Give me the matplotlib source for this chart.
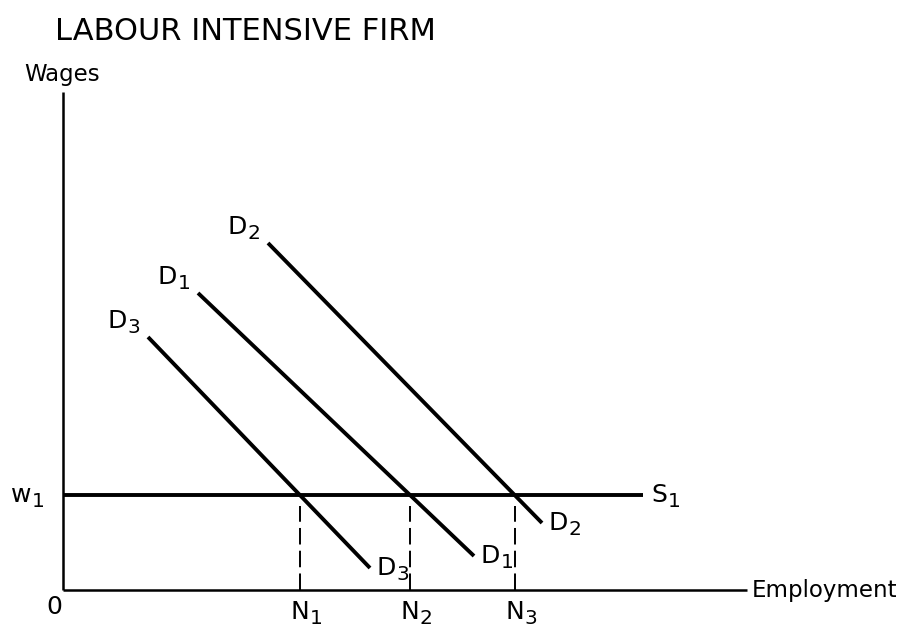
import os
import matplotlib
matplotlib.use("Agg")
import matplotlib.pyplot as plt
from matplotlib.font_manager import FontProperties

plt.rcParams['font.family'] = ['DejaVu Sans']
FONT_PATH = os.path.join(matplotlib.get_data_path(), 'fonts', 'ttf', 'DejaVuSans.ttf')


def fp(size):
    if os.path.exists(FONT_PATH):
        return FontProperties(fname=FONT_PATH, size=size)
    return FontProperties(family='DejaVu Sans', stretch='normal', size=size)


# ---- data (diagram units) ----
title = "LABOUR INTENSIVE FIRM"
y_label = "Wages"
x_label = "Employment"
employment_max = 68.4
wage_max = 49.8
wage_w1 = 9.5
supply_end = 58.0

demand_names = ["D1", "D2", "D3"]
demand_x = {"D1": [13.5, 41.1], "D2": [20.5, 47.9], "D3": [8.5, 30.7]}
demand_y = {"D1": [29.7, 3.4], "D2": [34.7, 6.7], "D3": [25.3, 2.2]}
n_labels = {"D3": "1", "D1": "2", "D2": "3"}

fig = plt.figure(figsize=(9.12, 6.3), dpi=100)
ax = fig.add_axes([0, 0, 1, 1])
ax.set_xlim(-6.3, 84.9)
ax.set_ylim(-4.0, 59.0)
ax.axis('off')

MAIN = 18
SUB = 14.5
axis_lw = 1.8
curve_lw = 2.8


def sublabel(xy, main, sub, offset, ha='left', coords='data'):
    t = ax.annotate(main, xy=xy, xycoords=coords, xytext=offset,
                    textcoords='offset points', ha=ha, va='center',
                    fontproperties=fp(MAIN), color='black')
    ax.annotate(sub, xy=(1, 0), xycoords=t, xytext=(0.3, -2.7),
                textcoords='offset points', ha='left', va='bottom',
                fontproperties=fp(SUB), color='black')
    return t


# axes
ax.plot([0, 0], [0, wage_max], color='black', lw=axis_lw, solid_capstyle='butt')
ax.plot([0, employment_max], [0, 0], color='black', lw=axis_lw, solid_capstyle='butt')

# supply
ax.plot([0, supply_end], [wage_w1, wage_w1], color='black', lw=curve_lw, solid_capstyle='butt')

# demand curves
for name in demand_names:
    xs, ys = demand_x[name], demand_y[name]
    ax.plot(xs, ys, color='black', lw=curve_lw, solid_capstyle='butt')
    letter, sub = name[0], name[1]
    sublabel((xs[0], ys[0]), letter, sub, (-22, 11.5), ha='center')
    sublabel((xs[1], ys[1]), letter, sub, (5, 0), ha='left')
    # intersection with supply
    nx = xs[0] + (wage_w1 - ys[0]) * (xs[1] - xs[0]) / (ys[1] - ys[0])
    ax.plot([nx, nx], [0, wage_w1 - 1.1], color='black', lw=1.4,
            dashes=(8.5, 3.2), dash_capstyle='butt')
    sublabel((nx, 0), "N", n_labels[name], (0, -16), ha='center')

# text labels
ax.text(-0.8, 55.8, title, fontproperties=fp(22), ha='left', va='center', color='black')
ax.text(-3.9, 51.5, y_label, fontproperties=fp(16.5), ha='left', va='center', color='black')
ax.text(68.9, 0.0, x_label, fontproperties=fp(16.5), ha='left', va='center', color='black')
ax.text(-0.9, -1.7, "0", fontproperties=fp(MAIN), ha='center', va='center', color='black')
sublabel((supply_end, wage_w1), "S", "1", (6, 0), ha='left')
sublabel((0, wage_w1), "w", "1", (-30, 0), ha='center')

fig.savefig("out.png", dpi=100, facecolor='white')
